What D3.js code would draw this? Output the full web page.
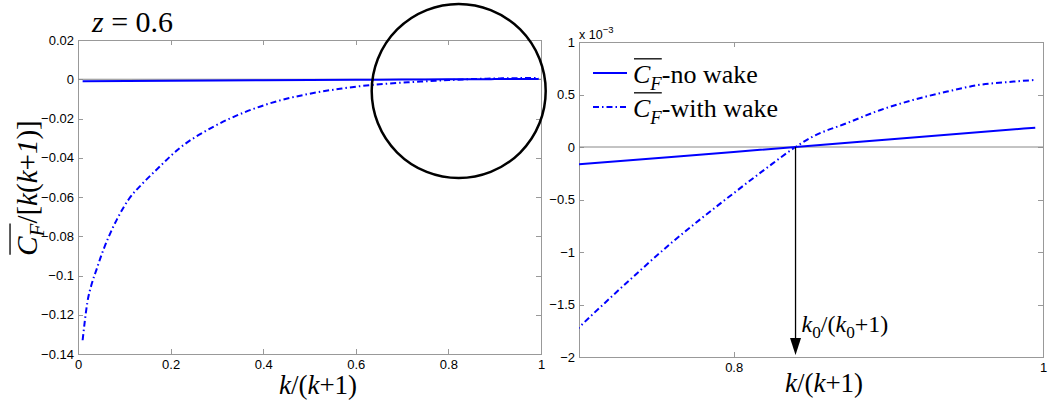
<!DOCTYPE html>
<meta charset="utf-8">
<style>
body { margin: 0; background: #fff; }
.axis path, .axis line { stroke: #999; fill: none; shape-rendering: crispEdges; }
</style>
<body>
<svg width="1048" height="402"></svg>
<script src="https://d3js.org/d3.v7.min.js"></script>
<script>

// k/(k+1) values and Cf/[k(k+1)]
var kWake  = [0.01, 0.02, 0.03, 0.04, 0.05, 0.065, 0.085, 0.11, 0.14, 0.17, 0.22, 0.29, 0.36, 0.43, 0.50, 0.57, 0.63,
              0.70, 0.72, 0.74, 0.76, 0.78, 0.80, 0.82, 0.84, 0.85, 0.873, 0.895, 0.916, 0.938, 0.959, 0.981, 0.995];
var cfWake = [-0.133, -0.114, -0.104, -0.097, -0.090, -0.081, -0.071, -0.061, -0.053, -0.046, -0.035, -0.0245, -0.0168, -0.0112, -0.0074, -0.0047, -0.0030,
              -0.00172, -0.00144, -0.00117, -0.00091, -0.00067, -0.00044, -0.000215, 0, 0.00009, 0.000226, 0.000353, 0.000448, 0.000528, 0.000592, 0.000623, 0.000639];

var kNoWake  = [0.01, 0.2, 0.4, 0.6, 0.7, 0.8, 0.84, 0.9, 0.995];
var cfNoWake = [-0.00098, -0.00076, -0.00052, -0.00028, -0.000165, -0.000047, 0, 0.000071, 0.000184];

var k0 = 0.84;

var leftXTicks  = [0, 0.2, 0.4, 0.6, 0.8, 1];
var leftYTicks  = [0.02, 0, -0.02, -0.04, -0.06, -0.08, -0.1, -0.12, -0.14];
var rightXTicks = [0.8, 1];
var rightYTicks = [0.001, 0.0005, 0, -0.0005, -0.001, -0.0015, -0.002];

var serif = '"Liberation Serif", "Times New Roman", serif';
var sans = '"Liberation Sans", Arial, sans-serif';
var blue = "#0000ff";
var dashDot = "6,3,1.5,3";

var svg = d3.select("svg");

var wake = kWake.map(function(k, i) { return {k: k, v: cfWake[i]}; });
var noWake = kNoWake.map(function(k, i) { return {k: k, v: cfNoWake[i]}; });

// text with italic / subscript / overlined pieces
function mathText(parent, parts, x, y, size, anchor) {
  var t = parent.append("text")
      .attr("x", x).attr("y", y)
      .attr("font-family", serif)
      .attr("font-size", size)
      .attr("text-anchor", anchor || "start")
      .attr("fill", "#000");
  var shift = 0, idx = 0, over = [];
  parts.forEach(function(p) {
    var s = t.append("tspan").text(p.t);
    var want = p.sub ? size * 0.25 : 0;
    if (want !== shift) { s.attr("dy", want - shift); shift = want; }
    if (p.i) s.attr("font-style", "italic");
    if (p.sub) s.attr("font-size", size * 0.72);
    if (p.over) over.push([idx, idx + p.t.length - 1]);
    idx += p.t.length;
  });
  if (over.length) {
    var node = t.node();
    var a = node.getStartPositionOfChar(over[0][0]).x;
    var b = node.getEndPositionOfChar(over[over.length - 1][1]).x;
    parent.append("line")
        .attr("x1", a + 1).attr("x2", b)
        .attr("y1", y - size * 0.93).attr("y2", y - size * 0.93)
        .attr("stroke", "#000").attr("stroke-width", 1.3);
  }
  return t;
}

function styleTicks(g) {
  g.attr("font-family", sans).attr("font-size", 13);
  g.selectAll("text").attr("fill", "#000");
}

function panel(box, xDomain, yDomain, xTicks, yTicks, yFmt) {
  var x = d3.scaleLinear().domain(xDomain).range([box.x0, box.x1]);
  var y = d3.scaleLinear().domain(yDomain).range([box.y1, box.y0]);

  var clipId = "clip" + box.x0;
  svg.append("clipPath").attr("id", clipId)
    .append("rect")
      .attr("x", box.x0).attr("y", box.y0)
      .attr("width", box.x1 - box.x0).attr("height", box.y1 - box.y0);

  svg.append("g").attr("class", "axis")
      .attr("transform", "translate(0," + box.y1 + ")")
      .call(d3.axisBottom(x).tickValues(xTicks).tickSize(-5).tickSizeOuter(0).tickPadding(6)
            .tickFormat(d3.format("~g")))
      .call(styleTicks);
  svg.append("g").attr("class", "axis")
      .attr("transform", "translate(0," + box.y0 + ")")
      .call(d3.axisTop(x).tickValues(xTicks).tickSize(-5).tickSizeOuter(0).tickFormat(""));
  svg.append("g").attr("class", "axis")
      .attr("transform", "translate(" + box.x0 + ",0)")
      .call(d3.axisLeft(y).tickValues(yTicks).tickSize(-5).tickSizeOuter(0).tickPadding(4)
            .tickFormat(yFmt))
      .call(styleTicks);
  svg.append("g").attr("class", "axis")
      .attr("transform", "translate(" + box.x1 + ",0)")
      .call(d3.axisRight(y).tickValues(yTicks).tickSize(-5).tickSizeOuter(0).tickFormat(""));

  // zero line
  svg.append("line")
      .attr("x1", box.x0).attr("x2", box.x1)
      .attr("y1", y(0)).attr("y2", y(0))
      .attr("stroke", "#888").attr("stroke-width", 1);

  var line = d3.line()
      .x(function(d) { return x(d.k); })
      .y(function(d) { return y(d.v); })
      .curve(d3.curveMonotoneX);

  var g = svg.append("g").attr("clip-path", "url(#" + clipId + ")");
  g.append("path").datum(wake)
      .attr("d", line).attr("fill", "none")
      .attr("stroke", blue).attr("stroke-width", 2)
      .attr("stroke-dasharray", dashDot);
  g.append("path").datum(noWake)
      .attr("d", line).attr("fill", "none")
      .attr("stroke", blue).attr("stroke-width", 2);

  return {x: x, y: y};
}

var fmt = d3.format("~g");
var L = panel({x0: 78, x1: 541, y0: 40, y1: 354}, [0, 1], [-0.14, 0.02], leftXTicks, leftYTicks, fmt);
var R = panel({x0: 579, x1: 1043, y0: 42, y1: 357}, [0.7, 1], [-0.002, 0.001], rightXTicks, rightYTicks,
              function(d) { return fmt(+(d * 1000).toFixed(3)); });

// x 10^-3 multiplier
var mult = svg.append("text")
    .attr("x", 579).attr("y", 39)
    .attr("font-family", sans)
    .attr("font-size", 12.5);
mult.append("tspan").text("x 10");
mult.append("tspan").attr("dy", -6).attr("font-size", 9.5).text("\u22123");

// title
mathText(svg, [{t: "z", i: true}, {t: " = 0.6"}], 92, 32, 30);

// axis labels
mathText(svg, [{t: "k", i: true}, {t: "/("}, {t: "k", i: true}, {t: "+1)"}], 318, 394, 27, "middle");
mathText(svg, [{t: "k", i: true}, {t: "/("}, {t: "k", i: true}, {t: "+1)"}], 824, 392, 27, "middle");

var yl = svg.append("g").attr("transform", "translate(37,188) rotate(-90)");
mathText(yl, [{t: "C", i: true, over: true}, {t: "F", i: true, sub: true, over: true},
              {t: "/["}, {t: "k", i: true}, {t: "("}, {t: "k", i: true}, {t: "+"}, {t: "1", i: true}, {t: ")]"}],
         0, 0, 29, "middle");

// zoom circle
svg.append("circle")
    .attr("cx", 458.7).attr("cy", 91).attr("r", 87)
    .attr("fill", "none").attr("stroke", "#000").attr("stroke-width", 2.5);

// legend
var legend = [{y: 73, dash: null, label: "-no wake"}, {y: 107, dash: dashDot, label: "-with wake"}];
legend.forEach(function(d) {
  svg.append("line")
      .attr("x1", 593).attr("x2", 627).attr("y1", d.y).attr("y2", d.y)
      .attr("stroke", blue).attr("stroke-width", 2)
      .attr("stroke-dasharray", d.dash);
  mathText(svg, [{t: "C", i: true, over: true}, {t: "F", i: true, sub: true, over: true}, {t: d.label}],
           633, d.y + 10, 26);
});

// k0 arrow
var ax = R.x(k0);
svg.append("line")
    .attr("x1", ax).attr("x2", ax)
    .attr("y1", R.y(0)).attr("y2", R.y(-0.002) - 15)
    .attr("stroke", "#000").attr("stroke-width", 1.3);
svg.append("path")
    .attr("d", "M" + (ax - 5.5) + "," + (R.y(-0.002) - 19) + "L" + (ax + 5.5) + "," + (R.y(-0.002) - 19) +
               "L" + ax + "," + (R.y(-0.002) - 2) + "Z")
    .attr("fill", "#000");
mathText(svg, [{t: "k", i: true}, {t: "0", sub: true}, {t: "/("}, {t: "k", i: true}, {t: "0", sub: true}, {t: "+1)"}],
         ax + 6, 332, 24);

</script>
</body>
